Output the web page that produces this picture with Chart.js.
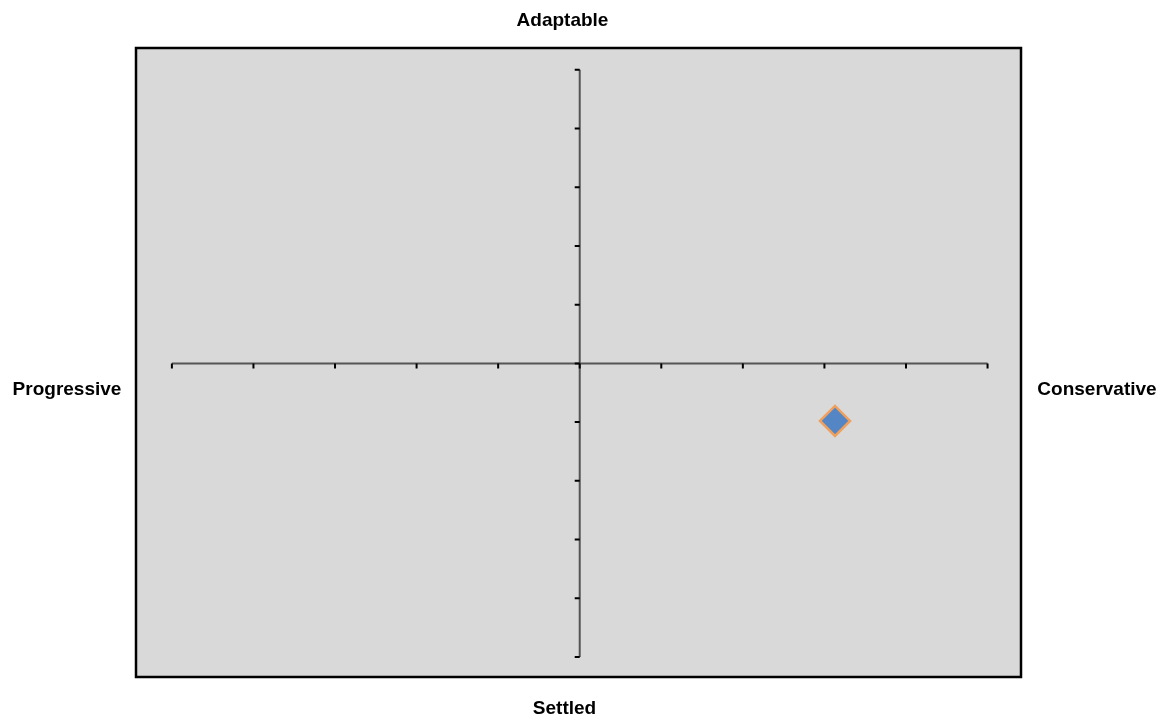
<!DOCTYPE html>
<html>
<head>
<meta charset="utf-8">
<script src="https://cdn.jsdelivr.net/npm/chart.js@4.4.0/dist/chart.umd.min.js"></script>
<style>
  html, body { margin: 0; padding: 0; background: #ffffff; }
  #wrap { width: 1160px; height: 717px; }
</style>
</head>
<body>
<div id="wrap"><canvas id="myChart" width="1160" height="717"></canvas></div>
<script>
// data
const xValues = [3.13];
const yValues = [-0.98];
const axisTicks = [-5, -4, -3, -2, -1, 0, 1, 2, 3, 4, 5];
const quadrantLabels = ['Adaptable', 'Settled', 'Progressive', 'Conservative'];

const points = xValues.map((x, i) => ({ x: x, y: yValues[i] }));

//draws the gray plot box, the crossing axes and the four labels
const quadrantPlugin = {
    id: 'quadrant',
    beforeDraw(chart) {
        const ctx = chart.ctx;
        const area = chart.chartArea;
        ctx.save();
        ctx.fillStyle = '#d9d9d9';
        ctx.fillRect(area.left, area.top, area.right - area.left, area.bottom - area.top);
        ctx.restore();
    },
    beforeDatasetsDraw(chart) {
        const ctx = chart.ctx;
        const xs = chart.scales.x;
        const ys = chart.scales.y;
        const lo = axisTicks[0];
        const hi = axisTicks[axisTicks.length - 1];
        const x0 = xs.getPixelForValue(0);
        const y0 = ys.getPixelForValue(0);

        ctx.save();
        //axis lines
        ctx.strokeStyle = '#555555';
        ctx.lineWidth = 2;
        ctx.beginPath();
        ctx.moveTo(xs.getPixelForValue(lo), y0);
        ctx.lineTo(xs.getPixelForValue(hi), y0);
        ctx.moveTo(x0, ys.getPixelForValue(lo));
        ctx.lineTo(x0, ys.getPixelForValue(hi));
        ctx.stroke();

        //tick marks
        ctx.strokeStyle = '#000000';
        ctx.lineWidth = 2;
        ctx.beginPath();
        axisTicks.forEach(t => {
            const px = xs.getPixelForValue(t);
            ctx.moveTo(px, y0);
            ctx.lineTo(px, y0 + 5);
            const py = ys.getPixelForValue(t);
            ctx.moveTo(x0, py);
            ctx.lineTo(x0 - 5, py);
        });
        ctx.stroke();
        ctx.restore();
    },
    afterDraw(chart) {
        const ctx = chart.ctx;
        const area = chart.chartArea;
        ctx.save();
        //plot border
        ctx.strokeStyle = '#000000';
        ctx.lineWidth = 2.5;
        ctx.strokeRect(area.left, area.top, area.right - area.left, area.bottom - area.top);

        //labels
        ctx.fillStyle = '#000000';
        ctx.font = 'bold 19px "Liberation Sans", Arial, sans-serif';
        ctx.textAlign = 'center';
        ctx.textBaseline = 'middle';
        const midX = (area.left + area.right) / 2;
        const midY = (area.top + area.bottom) / 2;
        ctx.fillText(quadrantLabels[0], midX - 16, area.top - 27);
        ctx.fillText(quadrantLabels[1], midX - 14, area.bottom + 32);
        ctx.fillText(quadrantLabels[2], area.left - 69, midY + 27);
        ctx.fillText(quadrantLabels[3], area.right + 76, midY + 27);
        ctx.restore();
    }
};

new Chart('myChart', {
    type: 'scatter',
    data: {
        datasets: [{
            data: points,
            pointStyle: 'rectRot',
            pointRadius: 15,
            pointHoverRadius: 15,
            backgroundColor: '#5485c4',
            borderColor: '#f0a05c',
            borderWidth: 2.5
        }]
    },
    options: {
        responsive: false,
        animation: false,
        layout: {
            padding: { left: 136, right: 139, top: 48, bottom: 40 }
        },
        plugins: {
            legend: { display: false },
            tooltip: { enabled: false }
        },
        scales: {
            x: { type: 'linear', min: -5.44, max: 5.41, display: false },
            y: { type: 'linear', min: -5.34, max: 5.37, display: false }
        }
    },
    plugins: [quadrantPlugin]
});
</script>
</body>
</html>
